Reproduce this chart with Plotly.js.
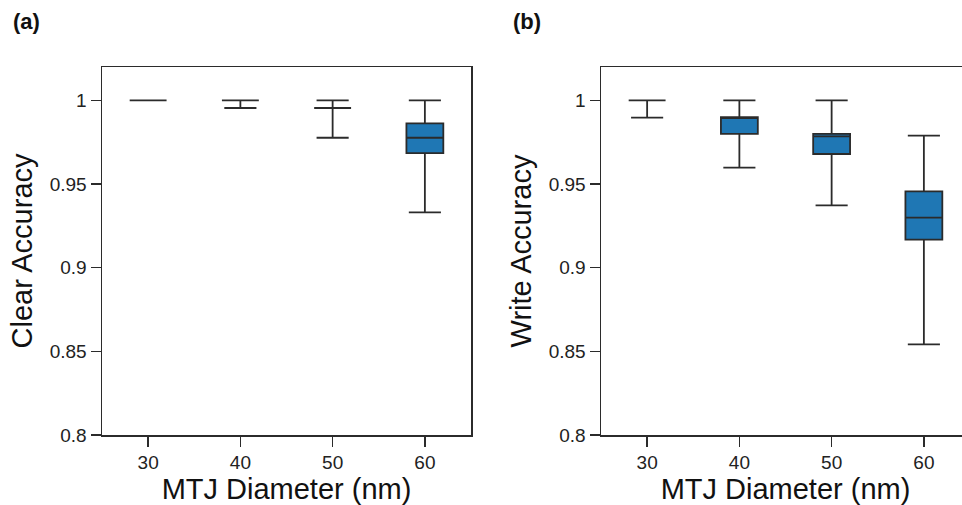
<!DOCTYPE html>
<html>
<head>
<meta charset="utf-8">
<script src="https://cdn.plot.ly/plotly-3.0.1.min.js"></script>
<style>
html, body { margin:0; padding:0; overflow:hidden; background:#fff; }
#chart { width:970px; height:505px; }
</style>
</head>
<body>
<div id="chart"></div>
<script>
// Data
const diameters = [30, 40, 50, 60];
const xTickLabels = ["30", "40", "50", "60"];
const yTickVals = [0.8, 0.85, 0.9, 0.95, 1];
const yTickLabels = ["0.8", "0.85", "0.9", "0.95", "1"];

// (a) Clear accuracy
const clearLower  = [1.0, 0.9955, 0.9777, 0.9331];
const clearQ1     = [1.0, 1.0,    0.9955, 0.9685];
const clearMedian = [1.0, 1.0,    0.9955, 0.9777];
const clearQ3     = [1.0, 1.0,    0.9955, 0.9863];
const clearUpper  = [1.0, 1.0,    1.0,    1.0];

// (b) Write accuracy
const writeLower  = [0.9897, 0.9598, 0.9373, 0.8542];
const writeQ1     = [1.0,    0.9800, 0.9680, 0.9168];
const writeMedian = [1.0,    0.9900, 0.9785, 0.9300];
const writeQ3     = [1.0,    0.9900, 0.9800, 0.9457];
const writeUpper  = [1.0,    1.0,    1.0,    0.9790];

const FONT = "Liberation Sans, Arial, Helvetica, sans-serif";
const INK = "#2b2b2b";
const FILL = "#1f77b4";

function boxTrace(q1, med, q3, lo, hi, xa, ya) {
  return {
    type: "box",
    x: diameters,
    q1: q1, median: med, q3: q3,
    lowerfence: lo, upperfence: hi,
    width: 4.0,
    whiskerwidth: 0.87,
    fillcolor: FILL,
    line: { color: INK, width: 1.8 },
    boxpoints: false,
    showlegend: false,
    hoverinfo: "skip",
    xaxis: xa, yaxis: ya
  };
}

const W = 970, H = 505;
const xAxisBase = {
  range: [25, 65],
  tickvals: diameters,
  ticktext: xTickLabels,
  ticks: "outside", ticklen: 10, tickwidth: 1.5, tickcolor: INK,
  showline: true, linecolor: INK, linewidth: 1.5, mirror: true,
  showgrid: false, zeroline: false,
  tickfont: { family: FONT, size: 19, color: "#222" },
  title: { text: "MTJ Diameter (nm)", font: { family: FONT, size: 29, color: "#111" }, standoff: 5 }
};
const yAxisBase = {
  range: [0.8, 1.02],
  tickvals: yTickVals,
  ticktext: yTickLabels,
  ticks: "outside", ticklen: 10, tickwidth: 1.5, tickcolor: INK,
  showline: true, linecolor: INK, linewidth: 1.5, mirror: true,
  showgrid: false, zeroline: false,
  tickfont: { family: FONT, size: 19, color: "#222" },
  domain: [1 - 435 / H, 1 - 67 / H]
};

const layout = {
  width: W, height: H,
  margin: { l: 0, r: 0, t: 0, b: 0 },
  paper_bgcolor: "#fff", plot_bgcolor: "#fff",
  font: { family: FONT, color: "#111" },
  xaxis: Object.assign({}, xAxisBase, { domain: [102 / W, 471 / W], anchor: "y" }),
  yaxis: Object.assign({}, yAxisBase, { anchor: "x",
    title: { text: "Clear Accuracy", font: { family: FONT, size: 29, color: "#111" }, standoff: 8 } }),
  xaxis2: Object.assign({}, xAxisBase, { domain: [601 / W, 1], anchor: "y2" }),
  yaxis2: Object.assign({}, yAxisBase, { anchor: "x2",
    title: { text: "Write Accuracy", font: { family: FONT, size: 29, color: "#111" }, standoff: 8 } }),
  annotations: [
    { text: "<b>(a)</b>", xref: "paper", yref: "paper", x: 11 / W, y: 1 - 21 / H,
      xanchor: "left", yanchor: "middle", showarrow: false, font: { family: FONT, size: 22, color: "#111" } },
    { text: "<b>(b)</b>", xref: "paper", yref: "paper", x: 511 / W, y: 1 - 21 / H,
      xanchor: "left", yanchor: "middle", showarrow: false, font: { family: FONT, size: 22, color: "#111" } }
  ]
};

const data = [
  boxTrace(clearQ1, clearMedian, clearQ3, clearLower, clearUpper, "x", "y"),
  boxTrace(writeQ1, writeMedian, writeQ3, writeLower, writeUpper, "x2", "y2")
];

Plotly.newPlot("chart", data, layout, { displayModeBar: false, staticPlot: true });
</script>
</body>
</html>
